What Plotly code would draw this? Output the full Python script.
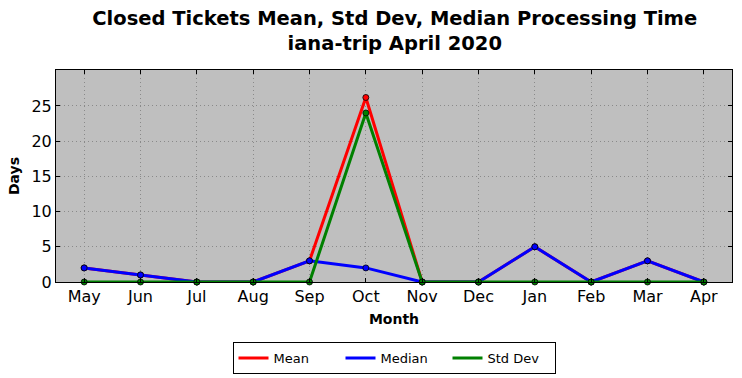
import plotly.graph_objects as go

months = ["May", "Jun", "Jul", "Aug", "Sep", "Oct", "Nov", "Dec", "Jan", "Feb", "Mar", "Apr"]
mean_vals = [2, 1, 0, 0, 3, 26.2, 0, 0, 5, 0, 3, 0]
median_vals = [2, 1, 0, 0, 3, 2, 0, 0, 5, 0, 3, 0]
std_vals = [0, 0, 0, 0, 0, 24.0, 0, 0, 0, 0, 0, 0]
y_ticks = [0, 5, 10, 15, 20, 25]

series = [("Mean", mean_vals, "red"), ("Median", median_vals, "blue"), ("Std Dev", std_vals, "green")]
xi = list(range(len(months)))

fig = go.Figure()
for name, vals, col in series:
    fig.add_trace(go.Scatter(
        x=xi, y=vals, mode="lines+markers", name=name, showlegend=False,
        line=dict(color=col, width=3),
        marker=dict(size=6, color=col, line=dict(color="black", width=0.8)),
        cliponaxis=False,
    ))
for name, vals, col in series:
    fig.add_trace(go.Scatter(
        x=[None], y=[None], mode="lines", name=name,
        line=dict(color=col, width=3),
    ))

fig.update_layout(
    width=742, height=378,
    margin=dict(l=56, r=10, t=70, b=96),
    paper_bgcolor="white", plot_bgcolor="#bfbfbf",
    font=dict(family="DejaVu Sans", color="black"),
    title=dict(text="<b>Closed Tickets Mean, Std Dev, Median Processing Time<br>iana-trip April 2020</b>",
               x=0.532, xanchor="center", y=0.935, yanchor="top", font=dict(size=19.5)),
    showlegend=True,
    legend=dict(orientation="h", x=0.531, xanchor="center", xref="container",
                y=1 - 342 / 378, yanchor="top", yref="container",
                bordercolor="black", borderwidth=1, bgcolor="white",
                font=dict(size=13), entrywidth=62, tracegroupgap=0),
)
grid = dict(showgrid=True, gridcolor="#8a8a8a", griddash="1px,3px", gridwidth=1)
fig.update_xaxes(
    range=[-0.5, 11.5], tickmode="array", tickvals=xi, ticktext=months,
    ticks="inside", ticklen=4, tickcolor="black", showline=True, linecolor="black", linewidth=1,
    mirror="ticks", tickfont=dict(size=16), zeroline=False, automargin=False,
    title=dict(text="<b>Month</b>", font=dict(size=14), standoff=8), **grid,
)
fig.update_yaxes(
    range=[0, 30.1], tickmode="array", tickvals=y_ticks,
    ticks="inside", ticklen=4, tickcolor="black", showline=True, linecolor="black", linewidth=1,
    mirror="ticks", tickfont=dict(size=16), zeroline=False, automargin=False,
    title=dict(text="<b>Days</b>", font=dict(size=14), standoff=8), **grid,
)
fig.write_html("out.html", config={"displayModeBar": False},
               post_script="document.body.style.margin='0';document.body.style.overflow='hidden';")
